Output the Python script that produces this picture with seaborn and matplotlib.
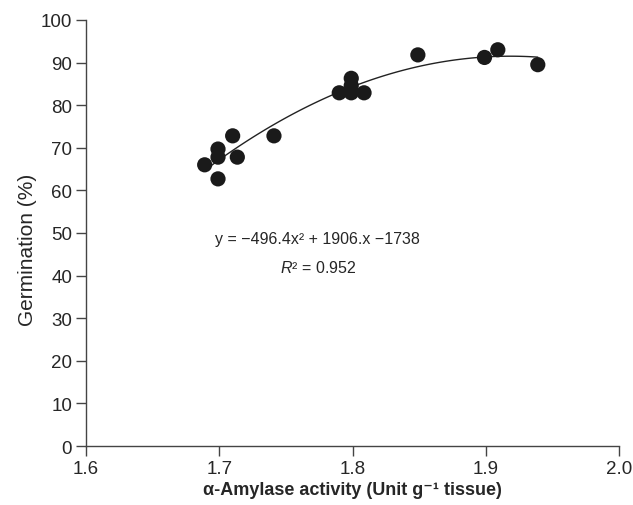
import matplotlib
matplotlib.use("Agg")
import matplotlib.pyplot as plt
import seaborn as sns
import pandas as pd

# alpha-amylase activity vs germination
activity = [1.689, 1.699, 1.699, 1.699, 1.710, 1.7135, 1.741,
            1.790, 1.799, 1.799, 1.799, 1.8086, 1.849, 1.899, 1.909, 1.939]
germination = [66.0, 69.7, 67.8, 62.7, 72.8, 67.8, 72.8,
               82.9, 82.9, 86.3, 84.6, 82.9, 91.8, 91.2, 93.0, 89.5]
x_ticks = [1.6, 1.7, 1.8, 1.9, 2.0]
y_ticks = [0, 10, 20, 30, 40, 50, 60, 70, 80, 90, 100]

df = pd.DataFrame({"activity": activity, "germination": germination})

sns.set_style("white")
plt.rcParams["font.family"] = ["Liberation Sans", "DejaVu Sans"]
plt.rcParams["mathtext.fontset"] = "custom"
plt.rcParams["mathtext.rm"] = "Liberation Sans"
plt.rcParams["mathtext.it"] = "Liberation Sans:italic"
plt.rcParams["mathtext.bf"] = "Liberation Sans:bold"

fig = plt.figure(figsize=(6.33, 5.06), dpi=100)
ax = fig.add_axes([0.136, 0.1166, 0.842, 0.842])

# quadratic trend line
sns.regplot(data=df, x="activity", y="germination", order=2, ci=None,
            scatter=False, ax=ax, line_kws={"color": "#222222", "lw": 1.0})
sns.scatterplot(data=df, x="activity", y="germination", ax=ax,
                color="#1a1a1a", s=120, edgecolor="none", zorder=3)

ax.set_xlim(1.6, 2.0)
ax.set_ylim(0, 100)
ax.set_xticks(x_ticks)
ax.set_xticklabels([f"{v:.1f}" for v in x_ticks])
ax.set_yticks(y_ticks)
ax.tick_params(axis="both", direction="out", length=7, width=1, color="#444444",
               labelsize=13.5, pad=3, bottom=True, left=True)
sns.despine(ax=ax)
for s in ["left", "bottom"]:
    ax.spines[s].set_color("#444444")
    ax.spines[s].set_linewidth(1)

ax.set_xlabel("\u03b1-Amylase activity (Unit g\u207b\u00b9 tissue)",
              fontsize=13, fontweight="bold", labelpad=3)
ax.set_ylabel("Germination (%)", fontsize=15)
ax.yaxis.set_label_coords(-0.092, 0.462)

ax.text(1.774, 48.6, "y = \u2212496.4x\u00b2 + 1906.x \u22121738", fontsize=11.5,
        ha="center", va="center")
ax.text(1.774, 42.0, "$R$\u00b2 = 0.952", fontsize=11.5, ha="center", va="center")

fig.savefig("out.png", dpi=100)
